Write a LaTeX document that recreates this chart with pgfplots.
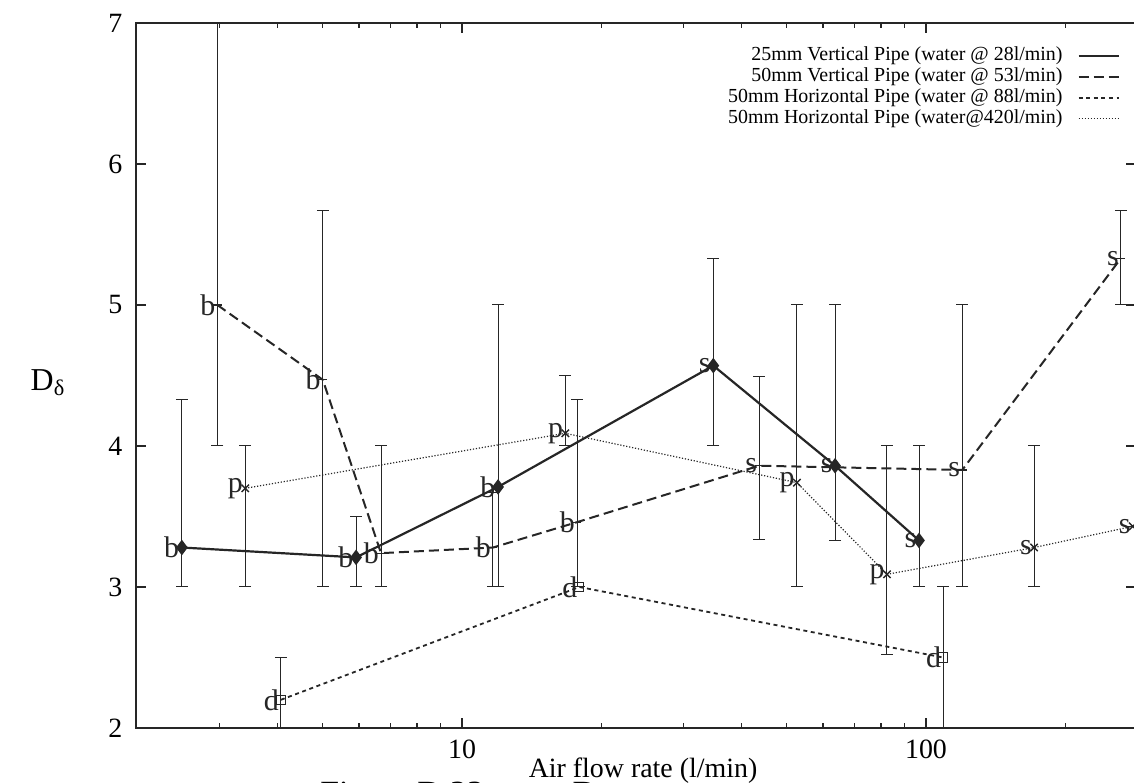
\documentclass[border=0pt]{standalone}
\usepackage{fontspec}
\setmainfont{Liberation Serif}
\usepackage{pgfplots}
\usepackage{pgfplotstable}
\pgfplotsset{compat=1.18}

% x = air flow rate (l/min), y = D_delta, lo/hi = error bar ends, lab = flow regime
\pgfplotstableread{
x y lo hi lab
2.49 3.28 3.00 4.33 b
5.91 3.21 3.00 3.50 b
11.96 3.71 3.00 5.00 b
34.8 4.57 4.00 5.33 s
63.7 3.86 3.33 5.00 s
96.6 3.33 3.00 4.00 s
}\vtwentyfive

\pgfplotstableread{
x y lo hi lab
2.97 5.00 4.00 7.00 b
5.01 4.47 3.00 5.67 b
6.69 3.24 3.00 4.00 b
11.66 3.28 3.00 3.67 b
17.7 3.46 3.00 4.33 b
43.7 3.86 3.34 4.49 s
119.7 3.83 3.00 5.00 s
263 5.33 5.00 5.67 s
}\vfifty

\pgfplotstableread{
x y lo hi lab
4.07 2.20 2.00 2.50 d
17.9 3.00 3.00 3.00 d
108.9 2.50 2.00 3.00 d
}\hlow

\pgfplotstableread{
x y lo hi lab
3.41 3.70 3.00 4.00 p
16.7 4.09 4.00 4.50 p
52.7 3.74 3.00 5.00 p
82.4 3.09 2.52 4.00 p
171 3.28 3.00 4.00 s
279 3.43 3.43 3.43 s
}\hhigh

\colorlet{ink}{black!85}

\pgfplotsset{
  errstyle/.style={
    error bars/.cd, y dir=both, y explicit,
    error bar style={line width=0.5bp, solid, ink},
    error mark options={rotate=90, mark size=3bp, line width=0.5bp, solid, ink},
  },
}

\begin{document}
\begin{tikzpicture}
\begin{axis}[
  name=ax,
  scale only axis, width=500bp, height=352.5bp,
  xmode=log, xmin=1.983, xmax=283.6, ymin=2, ymax=7,
  xtick={10,100}, xticklabels={10,100},
  minor xtick={3,4,5,6,7,8,9,20,30,40,50,60,70,80,90,200},
  ytick={2,3,4,5,6,7},
  /pgf/number format/assume math mode=true,
  tick align=inside, tick pos=both,
  major tick length=5bp, minor tick length=2.5bp,
  every tick/.style={ink, line width=0.6bp},
  axis line style={line width=1.2bp, ink},
  ticklabel style={font=\fontsize{14}{14}\selectfont},
  yticklabel style={xshift=-3.3bp},
  xticklabel style={yshift=-2.3bp},
  xlabel={Air flow rate (l/min)},
  xlabel style={at={(axis description cs:0.507,0)}, anchor=base, yshift=-24.5bp,
    font=\fontsize{14}{14}\selectfont},
  ylabel={D\textsubscript{δ}},
  ylabel style={rotate=-90, at={(axis description cs:-0.088,0.49)}, anchor=center,
    font=\fontsize{16}{16}\selectfont},
  legend plot pos=right,
  legend cell align=right,
  legend image code/.code={\path (0bp,0bp); \draw[#1] (7bp,0bp) -- (27bp,0bp);},
  legend style={draw=none, fill=none, at={(axis description cs:1,1)}, anchor=north east,
    xshift=-5bp, yshift=-9bp, font=\fontsize{10}{10}\selectfont,
    nodes={inner sep=0.5bp, text height=7bp, text depth=2.5bp}},
  point meta=explicit symbolic,
  nodes near coords,
  every node near coord/.append style={anchor=east, inner sep=0.8bp, ink,
    font=\fontsize{15}{15}\selectfont},
]

\addplot[ink, line width=1.1bp, solid, mark=diamond*, mark size=3bp,
  mark options={solid, fill=ink}, errstyle]
  table[x=x, y=y, meta=lab,
    y error plus expr=\thisrow{hi}-\thisrow{y},
    y error minus expr=\thisrow{y}-\thisrow{lo}] {\vtwentyfive};
\addlegendentry{25mm Vertical Pipe (water @ 28l/min)}

\addplot[ink, line width=1.0bp, dash pattern=on 5bp off 2.5bp, mark=-, mark size=2.2bp,
  mark options={solid, line width=0.6bp}, errstyle]
  table[x=x, y=y, meta=lab,
    y error plus expr=\thisrow{hi}-\thisrow{y},
    y error minus expr=\thisrow{y}-\thisrow{lo}] {\vfifty};
\addlegendentry{50mm Vertical Pipe (water @ 53l/min)}

\addplot[ink, line width=0.9bp, dash pattern=on 2bp off 1.8bp, mark=square, mark size=2.3bp,
  mark options={solid, line width=0.5bp}, errstyle]
  table[x=x, y=y, meta=lab,
    y error plus expr=\thisrow{hi}-\thisrow{y},
    y error minus expr=\thisrow{y}-\thisrow{lo}] {\hlow};
\addlegendentry{50mm Horizontal Pipe (water @ 88l/min)}

\addplot[ink, line width=0.6bp, dash pattern=on 0.6bp off 0.9bp, mark=x, mark size=2.6bp,
  mark options={solid, line width=0.7bp}, errstyle]
  table[x=x, y=y, meta=lab,
    y error plus expr=\thisrow{hi}-\thisrow{y},
    y error minus expr=\thisrow{y}-\thisrow{lo}] {\hhigh};
\addlegendentry{50mm Horizontal Pipe (water@420l/min)}

\end{axis}

% figure caption below the plot, running off the bottom of the page
\node[anchor=base west, font=\fontsize{17}{17}\selectfont, inner sep=0pt]
  at ([xshift=92bp, yshift=-38bp]ax.south west)
  {Figure D.23 \,—\hspace{1.2em}D\textsubscript{δ}};

\pgfresetboundingbox
\path[use as bounding box] ([xshift=-68bp, yshift=-27.5bp]ax.south west)
  rectangle ([xshift=-1bp, yshift=11.5bp]ax.north east);
\end{tikzpicture}
\end{document}
